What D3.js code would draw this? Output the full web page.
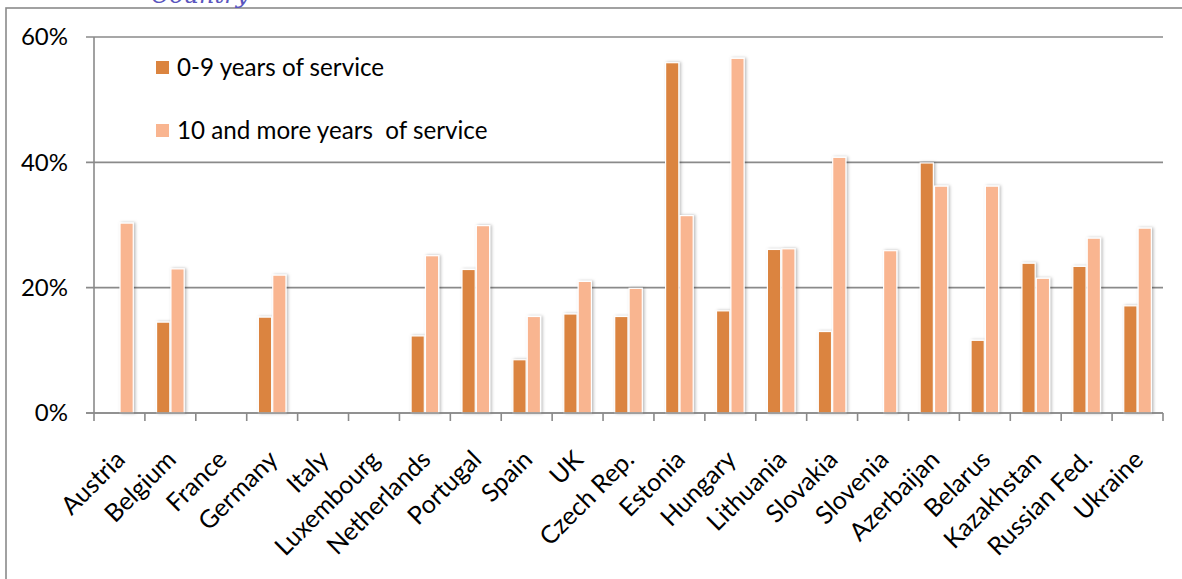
<!DOCTYPE html>
<html>
<head>
<meta charset="utf-8">
<script src="https://cdn.jsdelivr.net/npm/d3@7"></script>
<style>
  html, body { margin: 0; padding: 0; background: #fff; }
  svg { display: block; }
  text { font-family: Lato, "Open Sans", sans-serif; fill: #000; }
</style>
</head>
<body>
<svg id="chart" width="1182" height="579"></svg>
<script>
const categories = ["Austria","Belgium","France","Germany","Italy","Luxembourg","Netherlands","Portugal","Spain","UK","Czech Rep.","Estonia","Hungary","Lithuania","Slovakia","Slovenia","Azerbaijan","Belarus","Kazakhstan","Russian Fed.","Ukraine"];
const seriesNames = ["0-9 years of service", "10 and more years  of service"];
const service0to9 = [null,14.5,null,15.3,null,null,12.3,22.9,8.5,15.8,15.4,55.9,16.3,26.1,13.0,null,39.9,11.6,23.9,23.4,17.1];
const service10plus = [30.3,23.0,null,22.0,null,null,25.1,29.9,15.4,21.0,19.9,31.5,56.6,26.2,40.8,25.9,36.2,36.2,21.5,27.9,29.5];
const yTicks = [0, 20, 40, 60];
const colors = ["#DB843F", "#F9B590"];

const svg = d3.select("#chart");
const plot = { left: 94, right: 1163, top: 37, bottom: 413 };

const defs = svg.append("defs");
const f = defs.append("filter").attr("id", "shadow").attr("x", "-40%").attr("y", "-10%").attr("width", "180%").attr("height", "120%");
f.append("feDropShadow").attr("dx", 1.5).attr("dy", 0).attr("stdDeviation", 1.6).attr("flood-color", "#000").attr("flood-opacity", 0.28);

// outer frame
svg.append("rect").attr("x", 6).attr("y", 8).attr("width", 1180).attr("height", 600)
  .attr("fill", "none").attr("stroke", "#8a8a8a").attr("stroke-width", 1.6);

// partially cut title (as in the reference)
svg.append("text").attr("x", 200).attr("y", 3).attr("text-anchor", "middle")
  .style("font-family", "'DejaVu Serif', 'Liberation Serif', serif").style("font-style", "italic")
  .style("font-size", "24px").style("fill", "#5A55BE").text("Country");

const x0 = d3.scaleBand().domain(categories).range([plot.left, plot.right]).padding(0);
const bw = x0.bandwidth();
const x1 = d3.scaleBand().domain([0, 1]).range([bw / 2 - 13.8, bw / 2 + 13.8]).paddingInner(0.08);
const y = d3.scaleLinear().domain([0, 60]).range([plot.bottom, plot.top]);

svg.append("g").selectAll("line").data(yTicks).join("line")
  .attr("x1", plot.left - 8).attr("x2", plot.right)
  .attr("y1", d => y(d)).attr("y2", d => y(d))
  .attr("stroke", "#8a8a8a").attr("stroke-width", 1.6);

const yAxis = d3.axisLeft(y).tickValues(yTicks).tickFormat(d => d + "%").tickSize(0).tickPadding(26);
const gy = svg.append("g").attr("transform", `translate(${plot.left},0)`).call(yAxis);
gy.select(".domain").remove();
gy.selectAll("text").style("font-family", "Lato, sans-serif").style("font-size", "24px").attr("fill", "#000");

svg.append("line").attr("x1", plot.left).attr("x2", plot.left).attr("y1", plot.top).attr("y2", plot.bottom)
  .attr("stroke", "#8a8a8a").attr("stroke-width", 1.6);

const rows = categories.map((c, i) => ({ c, v: [service0to9[i], service10plus[i]] }));
const groups = svg.append("g").selectAll("g").data(rows).join("g")
  .attr("transform", d => `translate(${x0(d.c)},0)`);
groups.selectAll("rect").data(d => d.v.map((v, k) => ({ v, k })).filter(e => e.v != null)).join("rect")
  .attr("x", e => x1(e.k)).attr("width", x1.bandwidth())
  .attr("y", e => y(e.v)).attr("height", e => y(0) - y(e.v))
  .attr("fill", e => colors[e.k]).attr("stroke", "#fff").attr("stroke-width", 1.2)
  .attr("filter", "url(#shadow)");

const xTickPos = categories.map(c => x0(c)).concat([plot.right]);
svg.append("line").attr("x1", plot.left - 8).attr("x2", plot.right).attr("y1", plot.bottom).attr("y2", plot.bottom)
  .attr("stroke", "#8a8a8a").attr("stroke-width", 1.6);
svg.append("g").selectAll("line").data(xTickPos).join("line")
  .attr("x1", d => d).attr("x2", d => d).attr("y1", plot.bottom).attr("y2", plot.bottom + 8)
  .attr("stroke", "#8a8a8a").attr("stroke-width", 1.6);

svg.append("g").selectAll("text").data(categories).join("text")
  .attr("transform", c => `translate(${x0(c) + bw / 2 + 1},${plot.bottom + 42}) rotate(-45)`)
  .attr("text-anchor", "end").attr("dy", "0.35em")
  .style("font-size", "25px").text(c => c);

const legend = svg.append("g").selectAll("g").data(seriesNames).join("g")
  .attr("transform", (d, i) => `translate(156,${61 + i * 63})`);
legend.append("rect").attr("width", 13).attr("height", 13).attr("fill", (d, i) => colors[i]);
legend.append("text").attr("x", 21).attr("y", 15).style("font-size", "24.2px").style("white-space", "pre").text(d => d);
</script>
</body>
</html>
